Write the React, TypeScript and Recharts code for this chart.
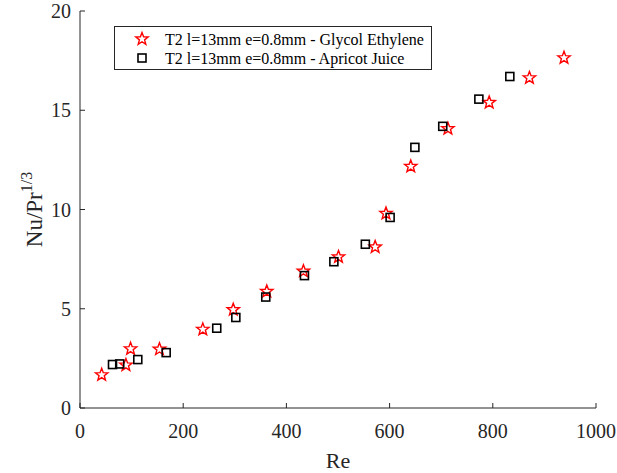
import React from "react";
import { ScatterChart, Scatter, XAxis, YAxis, Label } from "recharts";

// Glycol Ethylene (red stars)
const glycolRe = [42, 89, 98, 154, 238, 297, 362, 433, 501, 572, 593, 641, 713, 793, 871, 938];
const glycolNu = [1.67, 2.16, 2.98, 2.96, 3.96, 4.95, 5.87, 6.89, 7.61, 8.11, 9.8, 12.17, 14.07, 15.39, 16.63, 17.64];

// Apricot Juice (black squares)
const apricotRe = [63, 77, 112, 167, 265, 302, 360, 435, 492, 553, 601, 649, 703, 773, 833];
const apricotNu = [2.19, 2.22, 2.44, 2.79, 4.02, 4.56, 5.59, 6.67, 7.37, 8.25, 9.6, 13.13, 14.19, 15.56, 16.7];

const xTicks = [0, 200, 400, 600, 800, 1000];
const yTicks = [0, 5, 10, 15, 20];

const glycolLabel = "T2 l=13mm e=0.8mm - Glycol Ethylene";
const apricotLabel = "T2 l=13mm e=0.8mm - Apricot Juice";

const glycolData = glycolRe.map((re, i) => ({ re, nu: glycolNu[i] }));
const apricotData = apricotRe.map((re, i) => ({ re, nu: apricotNu[i] }));

const FONT = "'Liberation Serif', 'Times New Roman', serif";
const AXIS = "#262626";
const TICK = 5;

function starPath(cx: number, cy: number, r: number) {
  const inner = r * 0.42;
  let d = "";
  for (let i = 0; i < 10; i++) {
    const rad = i % 2 === 0 ? r : inner;
    const a = -Math.PI / 2 + (i * Math.PI) / 5;
    d += (i === 0 ? "M" : "L") + (cx + rad * Math.cos(a)).toFixed(2) + "," + (cy + rad * Math.sin(a)).toFixed(2);
  }
  return d + "Z";
}

const StarShape = (props: any) => {
  const { cx, cy } = props;
  return <path d={starPath(cx, cy, 6.5)} fill="none" stroke="#ff0000" strokeWidth={1.4} />;
};

const SquareShape = (props: any) => {
  const { cx, cy } = props;
  return <rect x={cx - 4} y={cy - 4} width={8} height={8} fill="none" stroke="#000" strokeWidth={1.6} />;
};

const BottomTick = ({ x, y, payload }: any) => (
  <g>
    <line x1={x} y1={y} x2={x} y2={y - TICK} stroke={AXIS} />
    <text x={x} y={y + 30} textAnchor="middle" fontSize={20} fill={AXIS} fontFamily={FONT}>
      {payload.value}
    </text>
  </g>
);

const TopTick = ({ x, y }: any) => <line x1={x} y1={y} x2={x} y2={y + TICK} stroke={AXIS} />;

const LeftTick = ({ x, y, payload }: any) => (
  <g>
    <line x1={x} y1={y} x2={x + TICK} y2={y} stroke={AXIS} />
    <text x={x - 9} y={y + 7} textAnchor="end" fontSize={20} fill={AXIS} fontFamily={FONT}>
      {payload.value}
    </text>
  </g>
);

const RightTick = ({ x, y }: any) => <line x1={x} y1={y} x2={x - TICK} y2={y} stroke={AXIS} />;

const YLabel = ({ viewBox }: any) => {
  const cx = 42;
  const cy = viewBox.y + viewBox.height / 2;
  return (
    <text
      x={cx}
      y={cy}
      transform={`rotate(-90 ${cx} ${cy})`}
      textAnchor="middle"
      fontSize={23}
      fill={AXIS}
      fontFamily={FONT}
    >
      Nu/Pr
      <tspan fontSize={16} dy={-10}>1/3</tspan>
    </text>
  );
};

function LegendBox() {
  return (
    <svg
      width={320}
      height={46}
      style={{ position: "absolute", left: 114, top: 26, pointerEvents: "none" }}
    >
      <rect x={0.5} y={0.5} width={317} height={43} fill="#fff" stroke={AXIS} strokeWidth={1} />
      <path d={starPath(28, 13, 6.5)} fill="none" stroke="#ff0000" strokeWidth={1.4} />
      <text x={51} y={18.5} fontSize={16} fill="#000" fontFamily={FONT}>{glycolLabel}</text>
      <rect x={24} y={28} width={8} height={8} fill="none" stroke="#000" strokeWidth={1.6} />
      <text x={51} y={37.5} fontSize={16} fill="#000" fontFamily={FONT}>{apricotLabel}</text>
    </svg>
  );
}

export default function App() {
  return (
    <div style={{ position: "absolute", left: 0, top: 0, width: 617, height: 473, background: "#fff", fontFamily: FONT }}>
      <ScatterChart width={617} height={473} margin={{ top: 11, right: 21, bottom: 0, left: 0 }}>
        <XAxis
          xAxisId="bottom"
          type="number"
          dataKey="re"
          domain={[0, 1000]}
          ticks={xTicks}
          interval={0}
          height={65}
          tickSize={0}
          tickMargin={0}
          axisLine={{ stroke: AXIS }}
          tick={BottomTick}
          allowDataOverflow
        >
          <Label value="Re" position="insideBottom" offset={5} fontSize={22} fill={AXIS} fontFamily={FONT} />
        </XAxis>
        <XAxis
          xAxisId="top"
          orientation="top"
          type="number"
          domain={[0, 1000]}
          ticks={xTicks}
          interval={0}
          height={0}
          tickSize={0}
          tickMargin={0}
          axisLine={{ stroke: AXIS }}
          tick={TopTick}
        />
        <YAxis
          yAxisId="left"
          type="number"
          dataKey="nu"
          domain={[0, 20]}
          ticks={yTicks}
          interval={0}
          width={80}
          tickSize={0}
          tickMargin={0}
          axisLine={{ stroke: AXIS }}
          tick={LeftTick}
          allowDataOverflow
        >
          <Label content={YLabel} />
        </YAxis>
        <YAxis
          yAxisId="right"
          orientation="right"
          type="number"
          domain={[0, 20]}
          ticks={yTicks}
          interval={0}
          width={0}
          tickSize={0}
          tickMargin={0}
          axisLine={{ stroke: AXIS }}
          tick={RightTick}
        />
        <Scatter
          name={glycolLabel}
          data={glycolData}
          xAxisId="bottom"
          yAxisId="left"
          shape={StarShape}
          isAnimationActive={false}
        />
        <Scatter
          name={apricotLabel}
          data={apricotData}
          xAxisId="bottom"
          yAxisId="left"
          shape={SquareShape}
          isAnimationActive={false}
        />
      </ScatterChart>
      <LegendBox />
    </div>
  );
}
